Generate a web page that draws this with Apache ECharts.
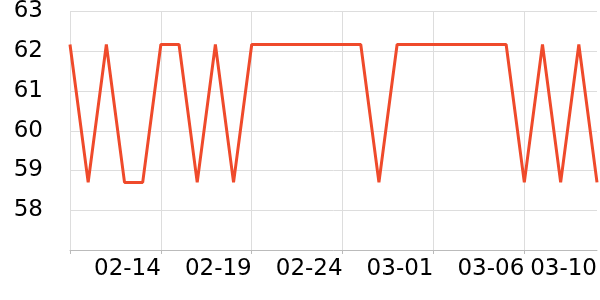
<!DOCTYPE html>
<html>
<head>
<meta charset="utf-8">
<script src="https://cdn.jsdelivr.net/npm/echarts@6/dist/echarts.min.js"></script>
<style>html,body{margin:0;padding:0;background:#fff}#c{width:600px;height:300px}</style>
</head>
<body>
<div id="c"></div>
<script>
const categories = ['02-09','02-10','02-11','02-12','02-13','02-14','02-15','02-16','02-17','02-18',
  '02-19','02-20','02-21','02-22','02-23','02-24','02-25','02-26','02-27','02-28',
  '03-01','03-02','03-03','03-04','03-05','03-06','03-07','03-08','03-09','03-10'];
const values = [62.17,58.7,62.17,58.7,58.7,62.17,62.17,58.7,62.17,58.7,
  62.17,62.17,62.17,62.17,62.17,62.17,62.17,58.7,62.17,62.17,
  62.17,62.17,62.17,62.17,62.17,58.7,62.17,58.7,62.17,58.7];
const labelIdx = [5,10,15,20,25,29];
const yMin = 57, yMax = 63;

const chart = echarts.init(document.getElementById('c'), null, {renderer:'canvas'});
chart.setOption({
  animation:false,
  grid:{left:70,right:2,top:10,bottom:50},
  xAxis:{
    type:'category', data:categories, boundaryGap:false,
    axisLine:{lineStyle:{color:'#bbb'}},
    axisTick:{interval:4, length:4, lineStyle:{color:'#bbb'}},
    splitLine:{show:true, interval:4, lineStyle:{color:'#ddd'}},
    axisLabel:{interval:(i)=>labelIdx.includes(i), align:'right', fontSize:23, color:'#000', fontFamily:'DejaVu Sans', margin:8}
  },
  yAxis:{
    type:'value', min:yMin, max:yMax, interval:1,
    axisLine:{show:false}, axisTick:{show:false},
    splitLine:{lineStyle:{color:'#ddd'}},
    axisLabel:{fontSize:23, color:'#000', fontFamily:'DejaVu Sans', margin:27, showMinLabel:false}
  },
  series:[{type:'line', data:values, symbol:'none', lineStyle:{color:'#ef4a2b', width:3}}]
});
</script>
</body>
</html>
